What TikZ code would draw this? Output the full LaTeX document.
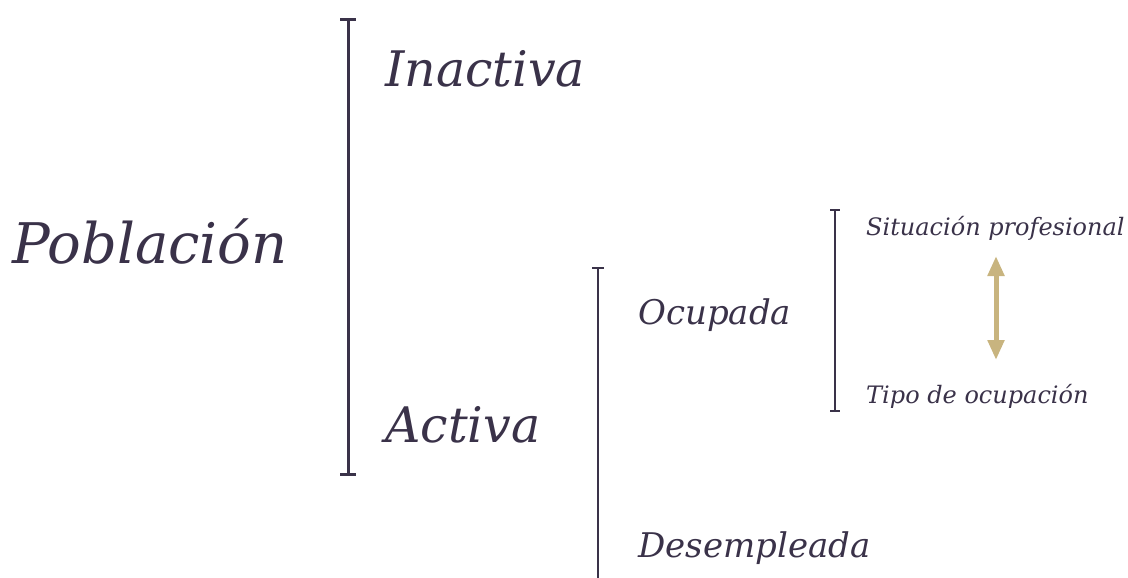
\documentclass[tikz,border=0pt]{standalone}
\usepackage{fontspec}
\setmainfont{DejaVu Serif}
\usetikzlibrary{arrows.meta}
\definecolor{ink}{HTML}{3A3249}
\definecolor{gold}{HTML}{C8B47F}
\begin{document}
\begin{tikzpicture}[x=1pt,y=-1pt,
  lbl/.style={anchor=base west,inner sep=0pt,text=ink,font=\itshape},
  brk/.style={draw=ink,line cap=butt}]
\useasboundingbox (0,0) rectangle (1128,578);
% texts
\node[lbl,font=\itshape\fontsize{56}{56}\selectfont] (pob) at (12,263) {Población};
\node[lbl,font=\itshape\fontsize{49}{49}\selectfont] (ina) at (385,87) {Inactiva};
\node[lbl,font=\itshape\fontsize{49}{49}\selectfont] (act) at (385,442) {Activa};
\node[lbl,font=\itshape\fontsize{34}{34}\selectfont] (ocu) at (638,324) {Ocupada};
\node[lbl,font=\itshape\fontsize{34}{34}\selectfont] (des) at (638,557) {Desempleada};
\node[lbl,font=\itshape\fontsize{24}{24}\selectfont] (sit) at (866,235) {Situación profesional};
\node[lbl,font=\itshape\fontsize{24}{24}\selectfont] (tip) at (866,403) {Tipo de ocupación};
% bracket 1
\coordinate (b1t) at (348,20); \coordinate (b1b) at (348,474);
\draw[brk,line width=3pt] (b1t) -- (b1b);
\draw[brk,line width=3pt] ([xshift=-8]b1t) -- ([xshift=8]b1t);
\draw[brk,line width=3pt] ([xshift=-8]b1b) -- ([xshift=8]b1b);
% bracket 2
\coordinate (b2t) at (598,268); \coordinate (b2b) at (598,578);
\draw[brk,line width=2.8pt] (b2t) -- (b2b);
\draw[brk,line width=2.8pt] ([xshift=-6]b2t) -- ([xshift=6]b2t);
% bracket 3
\coordinate (b3t) at (835,210); \coordinate (b3b) at (835,411);
\draw[brk,line width=1.5pt] (b3t) -- (b3b);
\draw[brk,line width=1.2pt] ([xshift=-5]b3t) -- ([xshift=5]b3t);
\draw[brk,line width=1.2pt] ([xshift=-5]b3b) -- ([xshift=5]b3b);
% arrow
\coordinate (at) at (996,256); \coordinate (ab) at (996,360);
\draw[gold,line width=5pt,{Triangle[length=20pt,width=16pt]}-{Triangle[length=20pt,width=16pt]}] (at) -- (ab);
\end{tikzpicture}
\end{document}
